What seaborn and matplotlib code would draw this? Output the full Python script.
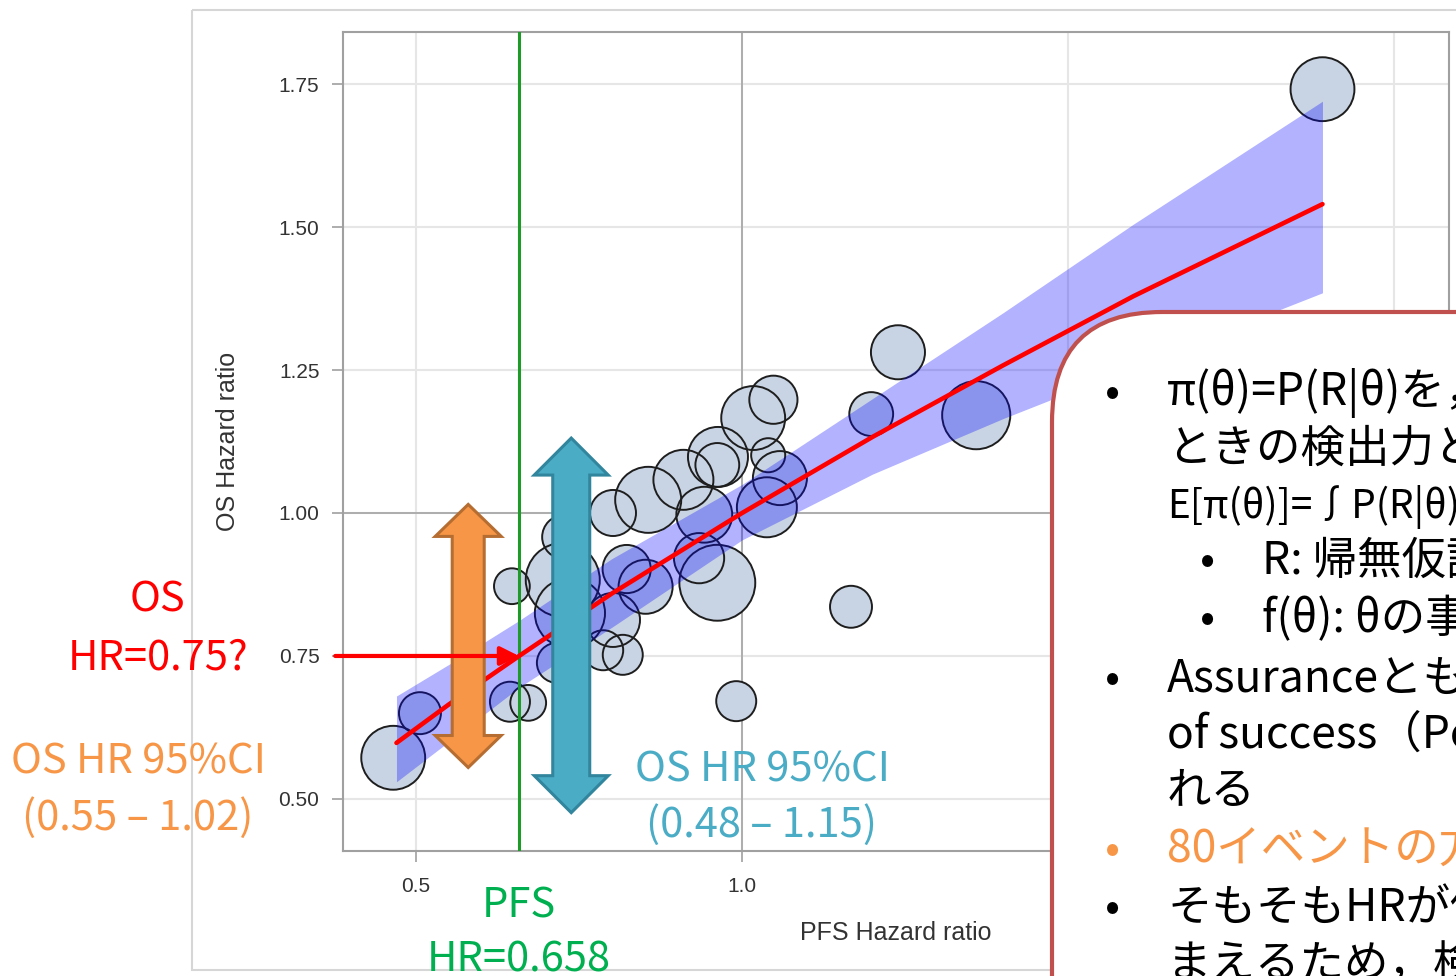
import numpy as np
import pandas as pd
import matplotlib
matplotlib.use("Agg")
import matplotlib.pyplot as plt
from matplotlib.patches import Polygon, FancyBboxPatch, Rectangle
import seaborn as sns

# trials: PFS hazard ratio, OS hazard ratio, bubble weight
pfs_hr = [0.465, 0.506, 0.647, 0.644, 0.672, 0.787, 0.817, 0.823, 1.048, 1.017,
          0.963, 0.962, 1.040, 1.058, 1.038, 0.910, 0.856, 0.802, 0.942, 0.962,
          0.934, 0.852, 0.802, 0.727, 0.725, 0.736, 0.716, 1.239, 1.198, 1.359,
          1.167, 0.991, 1.890]
os_hr = [0.572, 0.650, 0.872, 0.670, 0.668, 0.760, 0.752, 0.902, 1.198, 1.166,
         1.098, 1.084, 1.101, 1.061, 1.010, 1.058, 1.023, 1.000, 0.997, 0.878,
         0.921, 0.871, 0.813, 0.958, 0.883, 0.825, 0.738, 1.281, 1.173, 1.171,
         0.836, 0.671, 1.741]
weight = [102, 44, 32, 40, 32, 40, 40, 58, 58, 102,
          90, 48, 29, 73, 90, 90, 109, 53, 78, 144,
          63, 73, 73, 48, 137, 123, 40, 73, 48, 116,
          44, 40, 102]

# regression line and its band
fit_x = [0.47, 0.55, 0.658, 0.8, 1.0, 1.2, 1.4, 1.6, 1.89]
fit_y = [0.598, 0.665, 0.75, 0.859, 1.0, 1.133, 1.258, 1.379, 1.54]
band_lo = [0.53, 0.60, 0.695, 0.80, 0.953, 1.068, 1.165, 1.255, 1.385]
band_hi = [0.68, 0.735, 0.812, 0.92, 1.05, 1.20, 1.35, 1.505, 1.72]

pfs_obs = 0.658
os_pred = 0.75
ci_orange = (0.555, 1.015)
ci_teal = (0.476, 1.131)

xticks = [0.5, 1.0, 1.5, 2.0]
yticks = [0.50, 0.75, 1.00, 1.25, 1.50, 1.75]

box_lines = [
    ("π(θ)=P(R|θ)を，", 0, True, "black", 32),
    ("ときの検出力と", 0, False, "black", 32),
    ("E[π(θ)]=∫P(R|θ)", 0, False, "black", 28),
    ("R: 帰無仮説", 1, True, "black", 32),
    ("f(θ): θの事前", 1, True, "black", 32),
    ("AssuranceともP", 0, True, "black", 32),
    ("of success（PoS）", 0, False, "black", 32),
    ("れる", 0, False, "black", 32),
    ("80イベントの方", 0, True, "#F79646", 32),
    ("そもそもHRが低", 0, True, "black", 32),
    ("まえるため，検", 0, False, "black", 32),
]

W, H = 1456, 976
sns.set_style("white")
plt.rcParams["font.family"] = ["Liberation Sans", "DejaVu Sans"]
jp = ["Noto Sans CJK JP", "DejaVu Sans"]

fig = plt.figure(figsize=(W / 100, H / 100), dpi=100)
ax_l, ax_r, ax_t, ax_b = 343, 1449, 32, 851
ax = fig.add_axes([ax_l / W, 1 - ax_b / H, (ax_r - ax_l) / W, (ax_b - ax_t) / H])
xlim = (0.388, 2.084)
ylim = (0.409, 1.841)
ax.set_xlim(*xlim)
ax.set_ylim(*ylim)

df = pd.DataFrame({"pfs": pfs_hr, "os": os_hr, "w": weight})
pt2 = 20.736
wmin, wmax = min(weight), max(weight)
sns.scatterplot(data=df, x="pfs", y="os", size="w", sizes=(pt2 * wmin, pt2 * wmax),
                size_norm=(wmin, wmax), color="#C8D4E4", linewidth=0, legend=False,
                zorder=2, ax=ax)
sns.scatterplot(data=df, x="pfs", y="os", size="w", sizes=(pt2 * wmin, pt2 * wmax),
                size_norm=(wmin, wmax), color="#C8D4E4", edgecolor="#1E1E1E",
                linewidth=1.4, legend=False, zorder=2.1, ax=ax)
ax.collections[-1].set_facecolor("none")

ax.fill_between(fit_x, band_lo, band_hi, color="blue", alpha=0.3, lw=0, zorder=3)
sns.lineplot(x=fit_x, y=fit_y, color="red", lw=3.3, zorder=4, ax=ax)
ax.axvline(pfs_obs, color="#1E9A28", lw=2.2, zorder=3.5)

ax.set_xticks(xticks)
ax.set_xticklabels(["%.1f" % v for v in xticks])
ax.set_yticks(yticks)
ax.set_yticklabels(["%.2f" % v for v in yticks])
ax.grid(True, color="#E6E6E6", lw=1.5, zorder=0)
ax.set_axisbelow(True)
ax.axvline(1.0, color="#A8A8A8", lw=1.3, zorder=1)
ax.axhline(1.0, color="#A8A8A8", lw=1.3, zorder=1)
for s in ax.spines.values():
    s.set_color("#A0A0A0")
    s.set_linewidth(1.5)
ax.tick_params(axis="both", direction="out", length=8, width=1.2, color="#A0A0A0",
               labelsize=15, labelcolor="#333333")
ax.tick_params(axis="x", pad=11, bottom=True)
ax.tick_params(axis="y", pad=9, left=True)
ax.set_xlabel("PFS Hazard ratio", fontsize=18, color="#333333")
ax.set_ylabel("OS Hazard ratio", fontsize=18, color="#333333")
ax.xaxis.set_label_coords(0.5, -0.0855)
ax.yaxis.set_label_coords(-0.093, 0.5)

# double-headed CI arrows in data space
sx = (xlim[1] - xlim[0]) / (ax_r - ax_l)
sy = (ylim[1] - ylim[0]) / (ax_b - ax_t)


def double_arrow(xc, lo, hi, shaft, head, head_len, fc, ec):
    hw, hh, hl = shaft / 2 * sx, head / 2 * sx, head_len * sy
    verts = [(xc, hi), (xc + hh, hi - hl), (xc + hw, hi - hl), (xc + hw, lo + hl),
             (xc + hh, lo + hl), (xc, lo), (xc - hh, lo + hl), (xc - hw, lo + hl),
             (xc - hw, hi - hl), (xc - hh, hi - hl)]
    ax.add_patch(Polygon(verts, closed=True, fc=fc, ec=ec, lw=2.2, joinstyle="miter",
                         clip_on=False, zorder=6))


double_arrow(0.580, ci_orange[0], ci_orange[1], 32, 66, 32, "#F79646", "#B66D31")
double_arrow(0.738, ci_teal[0], ci_teal[1], 37, 74, 37, "#4BACC6", "#31859C")

ax.annotate("", xy=(pfs_obs, os_pred), xytext=(0.376, os_pred),
            arrowprops=dict(arrowstyle="-|>", color="red", lw=3, mutation_scale=28,
                            shrinkA=0, shrinkB=0),
            annotation_clip=False, zorder=7)

# overlay in pixel coordinates for slide annotations
ov = fig.add_axes([0, 0, 1, 1])
ov.set_xlim(0, W)
ov.set_ylim(H, 0)
ov.axis("off")
ov.add_patch(Rectangle((192, 10), 1400, 960, fc="none", ec="#D6D6D6", lw=1.5, zorder=0))

ov.text(157, 612, "OS", color="red", fontsize=30, family=jp, ha="center", va="baseline")
ov.text(158, 670, "HR=0.75?", color="red", fontsize=30, family=jp, ha="center", va="baseline")
ov.text(138, 773, "OS HR 95%CI", color="#F79646", fontsize=30, family=jp, ha="center", va="baseline")
ov.text(138, 830, "(0.55 – 1.02)", color="#F79646", fontsize=30, family=jp, ha="center", va="baseline")
ov.text(762, 781, "OS HR 95%CI", color="#4BACC6", fontsize=30, family=jp, ha="center", va="baseline")
ov.text(762, 837, "(0.48 – 1.15)", color="#4BACC6", fontsize=30, family=jp, ha="center", va="baseline")
ov.text(519, 917, "PFS", color="#00B050", fontsize=30, family=jp, ha="center", va="baseline")
ov.text(519, 972, "HR=0.658", color="#00B050", fontsize=30, family=jp, ha="center", va="baseline")

ov.add_patch(FancyBboxPatch((1052, 312), 600, 800,
                            boxstyle="round,pad=0,rounding_size=110",
                            fc="white", ec="#C0504D", lw=3, zorder=5))
line_y = [393, 449, 507, 561, 619, 679, 735, 791, 850, 908, 964]
for (txt, lvl, bullet, col, fs), y in zip(box_lines, line_y):
    bx, tx = (1113, 1167) if lvl == 0 else (1208, 1262)
    if bullet:
        ov.text(bx, y, "•", color=col, fontsize=fs, family=jp, ha="center", va="center", zorder=6)
    ov.text(tx, y, txt, color=col, fontsize=fs, family=jp, ha="left", va="center", zorder=6)

fig.savefig("out.png", dpi=100, facecolor="white")
